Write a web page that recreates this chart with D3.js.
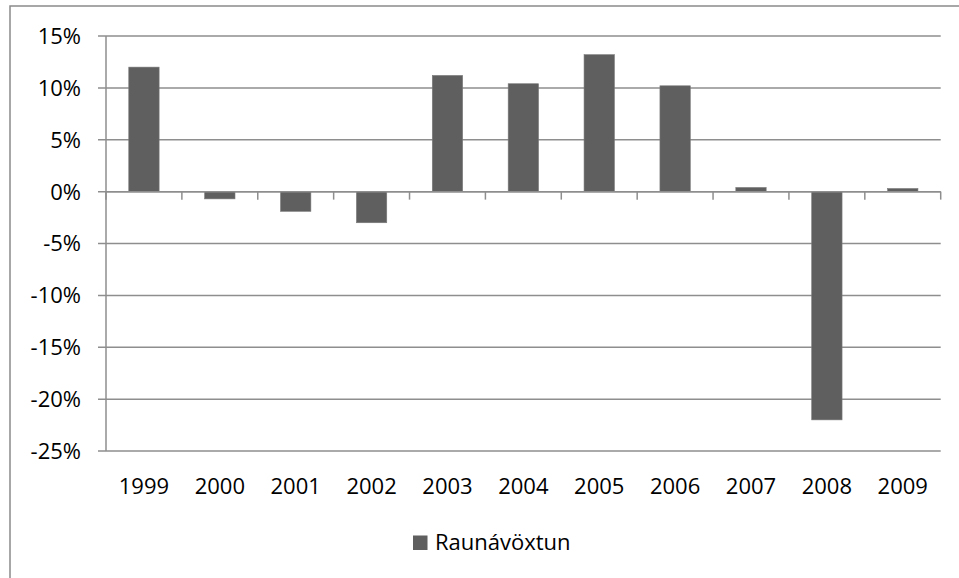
<!DOCTYPE html>
<html>
<head>
<meta charset="utf-8">
<script src="https://cdn.jsdelivr.net/npm/d3@7"></script>
<style>
  html, body { margin: 0; padding: 0; background: #fff; }
  svg { display: block; }
  text { font-family: "Open Sans", "Liberation Sans", sans-serif; fill: #000; }
</style>
</head>
<body>
<svg id="chart" width="959" height="578"></svg>
<script>
// Annual return per year (percent)
const years = ["1999", "2000", "2001", "2002", "2003", "2004", "2005", "2006", "2007", "2008", "2009"];
const returns = [12.0, -0.7, -1.9, -3.0, 11.2, 10.4, 13.2, 10.2, 0.4, -22.0, 0.3];
const yTicks = [15, 10, 5, 0, -5, -10, -15, -20, -25];
const seriesName = "Raunávöxtun";

const svg = d3.select("#chart");
const W = 959, H = 578;
const plot = { left: 106, right: 940.7, top: 36, bottom: 451 };
const fontSize = 22;

const barColor = "#5f5f5f";
const gridColor = "#8e8e8e";

// Outer chart frame (extends past the viewport on the right and bottom)
svg.append("rect")
  .attr("x", 10).attr("y", 6)
  .attr("width", W + 20).attr("height", H + 20)
  .attr("fill", "none").attr("stroke", "#8a8a8a").attr("stroke-width", 1.5);

const x = d3.scaleBand()
  .domain(years)
  .range([plot.left, plot.right])
  .paddingInner(0.6).paddingOuter(0.3);

const y = d3.scaleLinear()
  .domain([-25, 15])
  .range([plot.bottom, plot.top]);

// Horizontal gridlines with short outward ticks
svg.append("g")
  .selectAll("line")
  .data(yTicks)
  .join("line")
  .attr("x1", plot.left - 8).attr("x2", plot.right)
  .attr("y1", d => y(d)).attr("y2", d => y(d))
  .attr("stroke", gridColor).attr("stroke-width", 1.5);

// Y tick labels
svg.append("g")
  .selectAll("text")
  .data(yTicks)
  .join("text")
  .attr("x", 81).attr("y", d => y(d))
  .attr("dy", "0.36em")
  .attr("text-anchor", "end")
  .attr("font-size", fontSize)
  .text(d => d + "%");

// Vertical axis line
svg.append("line")
  .attr("x1", plot.left).attr("x2", plot.left)
  .attr("y1", plot.top).attr("y2", plot.bottom)
  .attr("stroke", gridColor).attr("stroke-width", 1.5);

// Bars
svg.append("g")
  .selectAll("rect")
  .data(years.map((yr, i) => ({ yr, v: returns[i] })))
  .join("rect")
  .attr("x", d => x(d.yr))
  .attr("width", x.bandwidth())
  .attr("y", d => y(Math.max(0, d.v)))
  .attr("height", d => Math.abs(y(d.v) - y(0)))
  .attr("fill", barColor)
  .attr("stroke", "#7a7a7a").attr("stroke-width", 0.6);

// Category axis on the zero line, ticks between categories
const boundaries = d3.range(years.length + 1).map(i => plot.left + i * (plot.right - plot.left) / years.length);
svg.append("line")
  .attr("x1", plot.left).attr("x2", plot.right)
  .attr("y1", y(0)).attr("y2", y(0))
  .attr("stroke", gridColor).attr("stroke-width", 1.5);
svg.append("g")
  .selectAll("line")
  .data(boundaries)
  .join("line")
  .attr("x1", d => d).attr("x2", d => d)
  .attr("y1", y(0)).attr("y2", y(0) + 8)
  .attr("stroke", gridColor).attr("stroke-width", 1.5);

// Category labels below the plot
svg.append("g")
  .selectAll("text")
  .data(years)
  .join("text")
  .attr("x", d => x(d) + x.bandwidth() / 2)
  .attr("y", 494)
  .attr("text-anchor", "middle")
  .attr("font-size", fontSize)
  .text(d => d);

// Legend
const legend = svg.append("g");
legend.append("rect")
  .attr("x", 413).attr("y", 535.5)
  .attr("width", 14.5).attr("height", 14.5)
  .attr("fill", barColor);
legend.append("text")
  .attr("x", 435).attr("y", 550)
  .attr("font-size", fontSize)
  .text(seriesName);
</script>
</body>
</html>
